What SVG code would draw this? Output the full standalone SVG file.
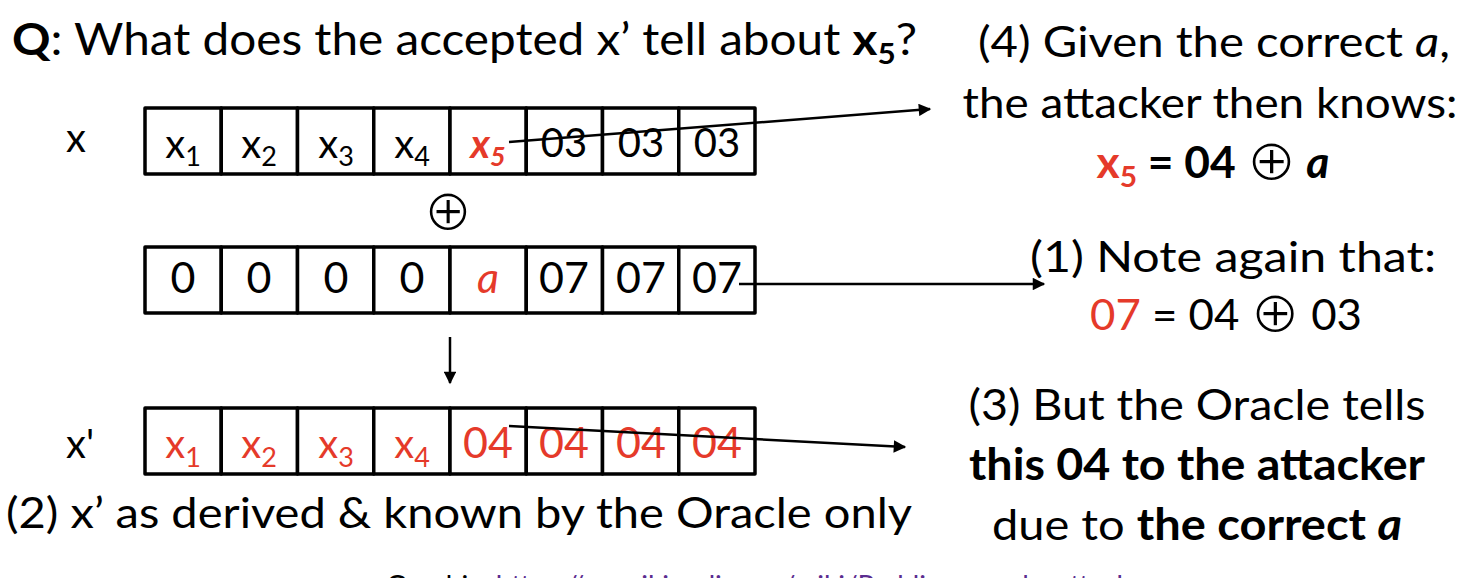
<svg xmlns="http://www.w3.org/2000/svg" width="1480" height="578" viewBox="0 0 1480 578">
<style>
text{font-family:Lato,"Liberation Sans",sans-serif;fill:#000}
.r{fill:#e53a2a}
.b{font-weight:bold}
.i{font-style:italic}
.op{font-family:"DejaVu Sans",sans-serif;font-weight:normal;font-style:normal;font-size:58px;stroke:#fff;stroke-width:1.6}
.box{fill:#fff;stroke:#000;stroke-width:3.5;stroke-linejoin:round}
.cell{font-size:40px;text-anchor:middle}
.big{font-size:43px}
.conn{stroke:#000;stroke-width:2.5;fill:none}
.lnk{fill:#5b2d90}
</style>
<defs>
<marker id="ah" viewBox="0 0 10 10" refX="9" refY="5" markerWidth="6" markerHeight="5" orient="auto" markerUnits="strokeWidth">
<path d="M0,0 L10,5 L0,10 z" fill="#000"/>
</marker>
</defs>

<g id="title">
<text x="12" y="55" font-size="44" textLength="905" lengthAdjust="spacingAndGlyphs"><tspan class="b">Q</tspan>: What does the accepted x’ tell about <tspan class="b">x</tspan><tspan class="b" font-size="29" dy="9">5</tspan><tspan dy="-9">?</tspan></text>
</g>

<g id="row-x">
<text x="66" y="152" font-size="40">x</text>
<rect class="box" x="145" y="108" width="76.25" height="66"/>
<rect class="box" x="221.25" y="108" width="76.25" height="66"/>
<rect class="box" x="297.5" y="108" width="76.25" height="66"/>
<rect class="box" x="373.75" y="108" width="76.25" height="66"/>
<rect class="box" x="450" y="108" width="76.25" height="66"/>
<rect class="box" x="526.25" y="108" width="76.25" height="66"/>
<rect class="box" x="602.5" y="108" width="76.25" height="66"/>
<rect class="box" x="678.75" y="108" width="76.25" height="66"/>
<text class="cell" x="183" y="158">x<tspan font-size="27" dy="8">1</tspan></text>
<text class="cell" x="259" y="158">x<tspan font-size="27" dy="8">2</tspan></text>
<text class="cell" x="336" y="158">x<tspan font-size="27" dy="8">3</tspan></text>
<text class="cell" x="412" y="158">x<tspan font-size="27" dy="8">4</tspan></text>
<text class="cell r b i" x="488" y="158">x<tspan font-size="27" dy="8">5</tspan></text>
<text class="cell" x="564" y="157" font-size="39">03</text>
<text class="cell" x="641" y="157" font-size="39">03</text>
<text class="cell" x="717" y="157" font-size="39">03</text>
</g>

<g id="xor-symbol">
<text class="op" x="448" y="230" text-anchor="middle">⊕</text>
</g>

<g id="row-pad">
<rect class="box" x="145" y="247" width="76.25" height="66"/>
<rect class="box" x="221.25" y="247" width="76.25" height="66"/>
<rect class="box" x="297.5" y="247" width="76.25" height="66"/>
<rect class="box" x="373.75" y="247" width="76.25" height="66"/>
<rect class="box" x="450" y="247" width="76.25" height="66"/>
<rect class="box" x="526.25" y="247" width="76.25" height="66"/>
<rect class="box" x="602.5" y="247" width="76.25" height="66"/>
<rect class="box" x="678.75" y="247" width="76.25" height="66"/>
<text class="cell big" x="183" y="293">0</text>
<text class="cell big" x="259" y="293">0</text>
<text class="cell big" x="336" y="293">0</text>
<text class="cell big" x="412" y="293">0</text>
<text class="cell big r i" x="488" y="293">a</text>
<text class="cell big" x="564" y="293">07</text>
<text class="cell big" x="641" y="293">07</text>
<text class="cell big" x="717" y="293">07</text>
</g>

<g id="row-xprime">
<text x="66" y="458" font-size="40">x'</text>
<rect class="box" x="145" y="408" width="76.25" height="66"/>
<rect class="box" x="221.25" y="408" width="76.25" height="66"/>
<rect class="box" x="297.5" y="408" width="76.25" height="66"/>
<rect class="box" x="373.75" y="408" width="76.25" height="66"/>
<rect class="box" x="450" y="408" width="76.25" height="66"/>
<rect class="box" x="526.25" y="408" width="76.25" height="66"/>
<rect class="box" x="602.5" y="408" width="76.25" height="66"/>
<rect class="box" x="678.75" y="408" width="76.25" height="66"/>
<text class="cell r" x="183" y="458">x<tspan font-size="27" dy="9">1</tspan></text>
<text class="cell r" x="259" y="458">x<tspan font-size="27" dy="9">2</tspan></text>
<text class="cell r" x="336" y="458">x<tspan font-size="27" dy="9">3</tspan></text>
<text class="cell r" x="412" y="458">x<tspan font-size="27" dy="9">4</tspan></text>
<text class="cell big r" x="488" y="458">04</text>
<text class="cell big r" x="564" y="458">04</text>
<text class="cell big r" x="641" y="458">04</text>
<text class="cell big r" x="717" y="458">04</text>
</g>

<g id="connectors">
<line class="conn" x1="509" y1="142" x2="930" y2="109" marker-end="url(#ah)"/>
<line class="conn" x1="739" y1="284" x2="1044" y2="284" marker-end="url(#ah)"/>
<line class="conn" x1="450" y1="337" x2="450" y2="383" marker-end="url(#ah)"/>
<line class="conn" x1="509" y1="426" x2="905" y2="447" marker-end="url(#ah)"/>
</g>

<g id="note4">
<text x="1214" y="57" font-size="43" text-anchor="middle" textLength="472" lengthAdjust="spacingAndGlyphs">(4) Given the correct <tspan class="i">a</tspan>,</text>
<text x="1210" y="118" font-size="43" text-anchor="middle" textLength="495" lengthAdjust="spacingAndGlyphs">the attacker then knows:</text>
<text x="1213" y="178" font-size="43" text-anchor="middle" textLength="233" lengthAdjust="spacingAndGlyphs"><tspan class="r b">x</tspan><tspan class="r b" font-size="29" dy="9">5</tspan><tspan class="b" dy="-9"> = 04 </tspan><tspan class="op" dy="2">⊕</tspan><tspan class="b i" dy="-2"> a</tspan></text>
</g>

<g id="note1">
<text x="1233" y="272" font-size="43" text-anchor="middle" textLength="406" lengthAdjust="spacingAndGlyphs">(1) Note again that:</text>
<text x="1226" y="330" font-size="43" text-anchor="middle" textLength="272" lengthAdjust="spacingAndGlyphs"><tspan class="r">07</tspan> = 04 <tspan class="op" dy="2">⊕</tspan><tspan dy="-2"> 03</tspan></text>
</g>

<g id="note3">
<text x="1197" y="420" font-size="43" text-anchor="middle" textLength="457" lengthAdjust="spacingAndGlyphs">(3) But the Oracle tells</text>
<text class="b" x="1197" y="480" font-size="43" text-anchor="middle" textLength="456" lengthAdjust="spacingAndGlyphs">this 04 to the attacker</text>
<text x="1197" y="540" font-size="43" text-anchor="middle" textLength="410" lengthAdjust="spacingAndGlyphs">due to <tspan class="b">the correct </tspan><tspan class="b i">a</tspan></text>
</g>

<g id="note2">
<text x="6" y="528" font-size="43" textLength="906" lengthAdjust="spacingAndGlyphs">(2) x’ as derived &amp; known by the Oracle only</text>
</g>

<g id="credit">
<text x="386" y="596" font-size="28">Graphic: <tspan class="lnk">https://en.wikipedia.org/wiki/Padding_oracle_attack</tspan></text>
</g>
</svg>
